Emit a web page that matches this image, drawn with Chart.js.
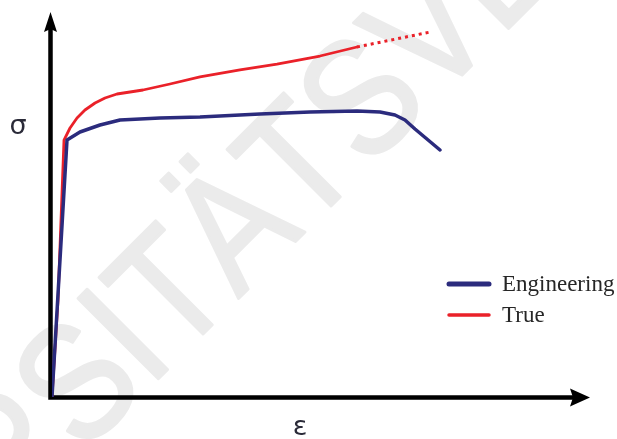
<!DOCTYPE html>
<html>
<head>
<meta charset="utf-8">
<title>Stress-strain curves</title>
<script src="https://cdn.jsdelivr.net/npm/chart.js@4.4.1/dist/chart.umd.min.js"></script>
<style>
  html, body { margin: 0; padding: 0; background: #fff; }
  canvas { display: block; }
</style>
</head>
<body>
<canvas id="chart" width="617" height="439"></canvas>
<script>
// strain (arbitrary units, 0-100 along the x arrow)
var engStrain = [0, 2.79, 5.20, 8.92, 12.64, 20.07, 27.51, 38.66, 47.96, 56.69, 60.97, 63.75, 65.61, 67.47, 72.12];
var engStress = [0, 66.75, 68.83, 70.65, 71.95, 72.47, 72.73, 73.51, 74.03, 74.29, 74.03, 73.25, 71.95, 69.61, 64.16];

var trueStrain = [0, 1.12, 2.23, 3.35, 4.65, 6.13, 8.0, 9.85, 12.08, 14.50, 16.91, 21.93, 27.51, 34.94, 41.82, 49.81, 56.69];
var trueStress = [0, 25.2, 66.75, 69.87, 72.47, 74.55, 76.36, 77.66, 78.70, 79.22, 79.74, 81.30, 83.12, 84.94, 86.49, 88.57, 90.91];

// dotted extension of the true curve past necking
var extStrain = [56.69, 70.3];
var extStress = [90.91, 94.8];

var seriesNames = ['Engineering', 'True'];
var engColor = '#2b2b7d';
var trueColor = '#ea2129';

function pts(xs, ys) {
  return xs.map(function (x, i) { return { x: x, y: ys[i] }; });
}

// white page + faint diagonal publisher mark
var backdrop = {
  id: 'backdrop',
  beforeDraw: function (chart) {
    var ctx = chart.ctx;
    ctx.save();
    ctx.fillStyle = '#fff';
    ctx.fillRect(0, 0, chart.width, chart.height);
    ctx.translate(149, 388);
    ctx.rotate(-Math.PI / 4);
    ctx.scale(0.86, 1);
    ctx.font = '165px "Liberation Sans"';
    ctx.fillStyle = '#ebebeb';
    ctx.strokeStyle = '#ebebeb';
    ctx.lineWidth = 3;
    ctx.lineJoin = 'round';
    ctx.textBaseline = 'alphabetic';
    ctx.textAlign = 'left';
    ctx.fillText('ITÄTSVERLAG', 0, 0);
    ctx.strokeText('ITÄTSVERLAG', 0, 0);
    ctx.textAlign = 'right';
    ctx.fillText('UNIVERS', 0, 0);
    ctx.strokeText('UNIVERS', 0, 0);
    ctx.restore();
  }
};

// axes with arrow heads, drawn under the curves
var arrowAxes = {
  id: 'arrowAxes',
  beforeDatasetsDraw: function (chart) {
    var ctx = chart.ctx, a = chart.chartArea;
    var x0 = a.left - 1.5, y0 = a.bottom + 0.5;
    ctx.save();
    ctx.strokeStyle = '#000';
    ctx.fillStyle = '#000';
    ctx.lineWidth = 4.5;
    ctx.lineCap = 'square';
    ctx.beginPath();
    ctx.moveTo(x0, a.top + 16);
    ctx.lineTo(x0, y0);
    ctx.lineTo(a.right - 16, y0);
    ctx.stroke();
    // up arrow
    ctx.beginPath();
    ctx.moveTo(x0, a.top);
    ctx.lineTo(x0 + 6.5, a.top + 20);
    ctx.lineTo(x0, a.top + 17);
    ctx.lineTo(x0 - 6.5, a.top + 20);
    ctx.closePath();
    ctx.fill();
    // right arrow
    ctx.beginPath();
    ctx.moveTo(a.right, y0);
    ctx.lineTo(a.right - 20, y0 - 9);
    ctx.lineTo(a.right - 17, y0);
    ctx.lineTo(a.right - 20, y0 + 9);
    ctx.closePath();
    ctx.fill();

    ctx.font = '27px "DejaVu Sans"';
    ctx.fillStyle = '#2a2a38';
    ctx.textAlign = 'center';
    ctx.textBaseline = 'middle';
    ctx.fillText('σ', 18, 127);
    ctx.fillText('ε', a.left + 248, 428);
    ctx.restore();
  }
};

// legend at the lower right of the plot
var sideLegend = {
  id: 'sideLegend',
  afterDraw: function (chart) {
    var ctx = chart.ctx;
    var rows = chart.data.datasets.filter(function (d) { return seriesNames.indexOf(d.label) >= 0; });
    ctx.save();
    ctx.font = '23px "Liberation Serif"';
    ctx.fillStyle = '#262626';
    ctx.textBaseline = 'middle';
    rows.forEach(function (d, i) {
      var y = 284 + i * 31;
      ctx.strokeStyle = d.borderColor;
      ctx.lineWidth = i === 0 ? 5 : 3.5;
      ctx.lineCap = 'round';
      ctx.beginPath();
      ctx.moveTo(449, y);
      ctx.lineTo(489, y);
      ctx.stroke();
      ctx.fillText(d.label, 502, y + 1);
    });
    ctx.restore();
  }
};

new Chart('chart', {
  type: 'line',
  data: {
    datasets: [
      { label: seriesNames[0], data: pts(engStrain, engStress), borderColor: engColor, borderWidth: 3.5 },
      { label: seriesNames[1], data: pts(trueStrain, trueStress), borderColor: trueColor, borderWidth: 2.8 },
      { label: 'True (extrapolated)', data: pts(extStrain, extStress), borderColor: trueColor,
        borderWidth: 3, borderDash: [3, 4], borderCapStyle: 'butt' }
    ]
  },
  options: {
    responsive: false,
    animation: false,
    layout: { padding: { left: 52, right: 27, top: 12, bottom: 42 } },
    elements: {
      point: { radius: 0 },
      line: { tension: 0, borderCapStyle: 'round', borderJoinStyle: 'round' }
    },
    scales: {
      x: { type: 'linear', min: 0, max: 100, display: false },
      y: { type: 'linear', min: 0, max: 100, display: false }
    },
    plugins: {
      legend: { display: false },
      tooltip: { enabled: false }
    }
  },
  plugins: [backdrop, arrowAxes, sideLegend]
});
</script>
</body>
</html>
